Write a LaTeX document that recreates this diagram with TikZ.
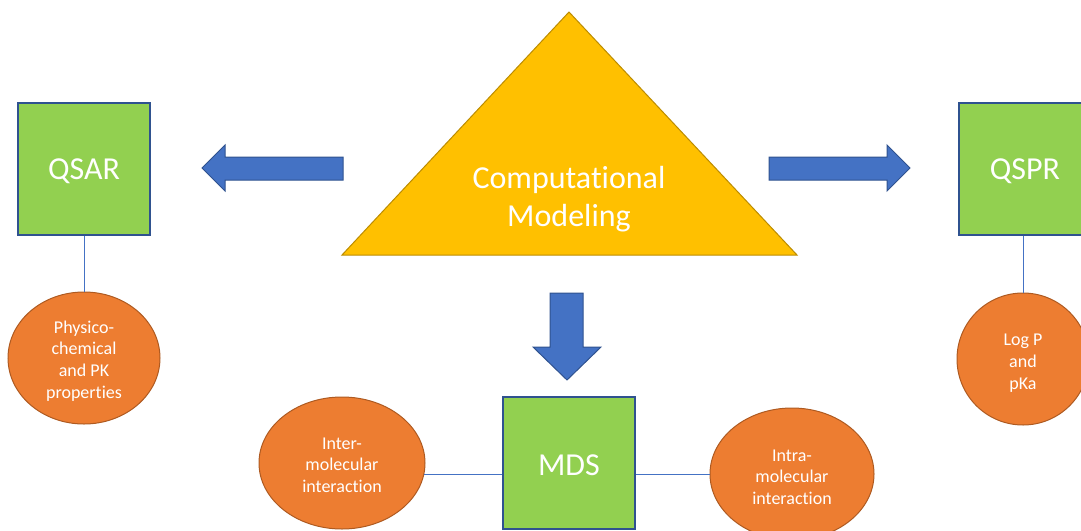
\documentclass[tikz,border=0pt]{standalone}
\usepackage{fontspec}
\setmainfont[Ligatures=NoCommon]{Carlito}
\usetikzlibrary{shapes.geometric}
\definecolor{boxgreen}{HTML}{92D050}
\definecolor{boxline}{HTML}{2F528F}
\definecolor{ovalfill}{HTML}{ED7D31}
\definecolor{ovalline}{HTML}{AE5A21}
\definecolor{trifill}{HTML}{FFC000}
\definecolor{triline}{HTML}{BC8C00}
\definecolor{arrowfill}{HTML}{4472C4}
\definecolor{linkcol}{HTML}{4472C4}
\tikzset{
  greenbox/.style={draw=boxline, fill=boxgreen, line width=1.3pt, minimum width=132pt, minimum height=132pt, inner sep=0pt},
  boxtext/.style={text=white, font=\fontsize{32}{38}\selectfont, inner sep=0pt, yshift=-2pt},
  oval/.style={ellipse, draw=ovalline, fill=ovalfill, line width=1pt, inner sep=0pt},
  ovaltext/.style={text=white, align=center, font=\fontsize{18}{21.7}\selectfont, inner sep=0pt, yshift=-3pt},
  blockarrow/.style={draw=boxline, fill=arrowfill, line width=1pt, line join=miter},
  link/.style={draw=linkcol, line width=0.8pt},
}
\begin{document}
\begin{tikzpicture}[x=1pt,y=-1pt]
\useasboundingbox (0,0) rectangle (1081,530);
% triangle
\draw[fill=trifill, draw=triline, line width=1pt] (569,12) -- (797,255) -- (342,255) -- cycle;
\node[text=white, align=center, font=\fontsize{32}{38}\selectfont] (cm) at (569,199) {Computational\\Modeling};
% boxes
\node[greenbox, label={[boxtext]center:QSAR}] (qsar) at (84,169) {};
\node[greenbox, label={[boxtext]center:QSPR}] (qspr) at (1025,169) {};
\node[greenbox, label={[boxtext]center:MDS}] (mds) at (569,463) {};
% ovals
\node[oval, minimum width=152pt, minimum height=132pt, label={[ovaltext]center:Physico-\\chemical\\and PK\\properties}] (phys) at (84,358) {};
\node[oval, minimum width=132pt, minimum height=132pt, label={[ovaltext, yshift=-1pt]center:Log P\\and\\pKa}] (logp) at (1023,359) {};
\node[oval, minimum width=166pt, minimum height=132pt, label={[ovaltext, yshift=1pt]center:Inter-\\molecular\\interaction}] (inter) at (342,463) {};
\node[oval, minimum width=164pt, minimum height=132pt, label={[ovaltext]center:Intra-\\molecular\\interaction}] (intra) at (792,474) {};
% connectors
\draw[link] (qsar.south) -- (phys.north);
\draw[link] (qspr.south -| logp.north) -- (logp.north);
\draw[link] (inter.-8.7) -- (inter.-8.7 -| mds.west);
\draw[link] (mds.east |- intra.west) -- (intra.west);
% block arrows
\draw[blockarrow] (343,157) -- (225,157) -- (225,145) -- (202,168) -- (225,191) -- (225,180) -- (343,180) -- cycle;
\draw[blockarrow] (769,157) -- (887,157) -- (887,145) -- (910,168) -- (887,191) -- (887,180) -- (769,180) -- cycle;
\draw[blockarrow] (550,293) -- (583,293) -- (583,347) -- (601,347) -- (567,380) -- (533,347) -- (550,347) -- cycle;
\end{tikzpicture}
\end{document}
